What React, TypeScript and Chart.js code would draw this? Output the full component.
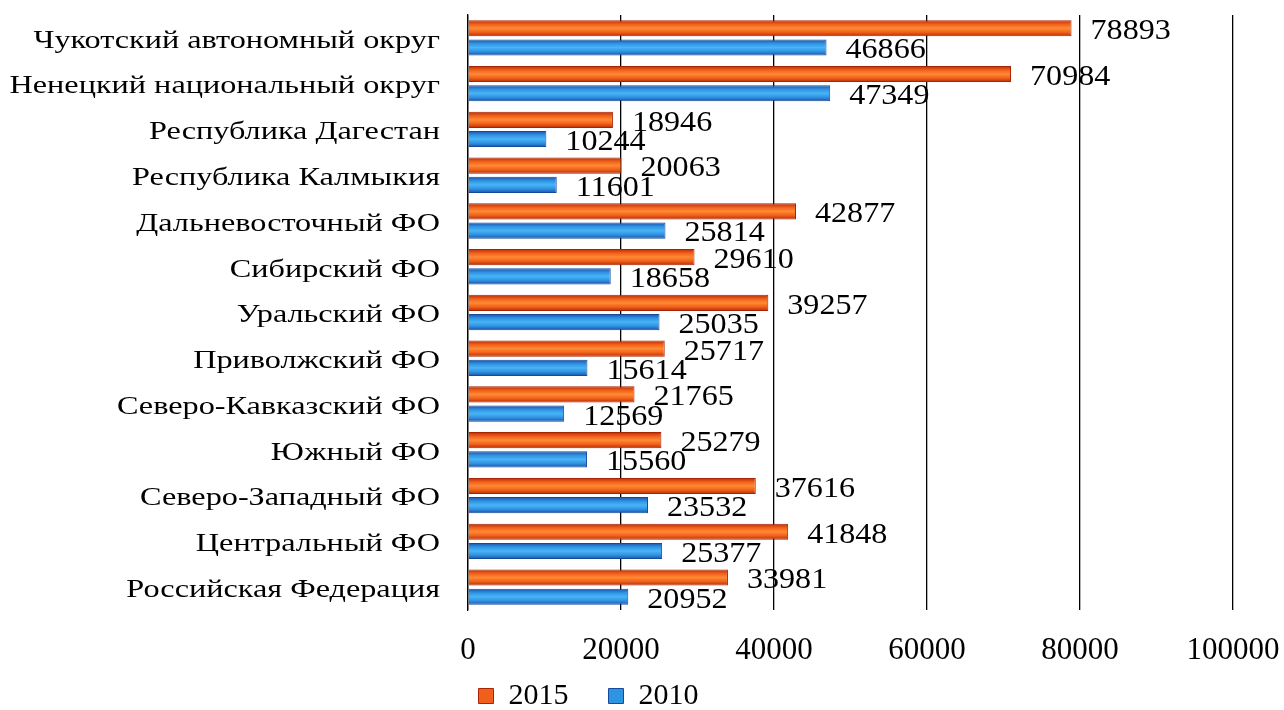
import React, { useEffect, useRef } from "react";
import { Chart, registerables } from "chart.js";

Chart.register(...registerables);

const categories = [
  "Чукотский автономный округ",
  "Ненецкий национальный округ",
  "Республика Дагестан",
  "Республика Калмыкия",
  "Дальневосточный ФО",
  "Сибирский ФО",
  "Уральский ФО",
  "Приволжский ФО",
  "Северо-Кавказский ФО",
  "Южный ФО",
  "Северо-Западный ФО",
  "Центральный ФО",
  "Российская Федерация",
];
const values2015 = [78893, 70984, 18946, 20063, 42877, 29610, 39257, 25717, 21765, 25279, 37616, 41848, 33981];
const values2010 = [46866, 47349, 10244, 11601, 25814, 18658, 25035, 15614, 12569, 15560, 23532, 25377, 20952];
const xTicks = [0, 20000, 40000, 60000, 80000, 100000];

const FONT = "'Liberation Serif', 'Times New Roman', serif";

const gradientStops: Record<string, string[]> = {
  orange: ["#b82a06", "#f0601a", "#ff8a34", "#f0601a", "#b82a06"],
  blue: ["#1a4fa6", "#2f92e2", "#48b4f6", "#2f92e2", "#1a4fa6"],
};
const stopPos = [0, 0.25, 0.5, 0.75, 1];

const gradientPlugin = {
  id: "barGradient",
  beforeDatasetsDraw(chart: any) {
    const ctx = chart.ctx;
    chart.data.datasets.forEach((ds: any, i: number) => {
      const meta = chart.getDatasetMeta(i);
      const stops = gradientStops[ds.gradKey];
      meta.data.forEach((el: any) => {
        const h = el.height;
        const g = ctx.createLinearGradient(0, el.y - h / 2, 0, el.y + h / 2);
        stops.forEach((c, k) => g.addColorStop(stopPos[k], c));
        el.options = Object.assign({}, el.options, { backgroundColor: g });
      });
    });
  },
};

const labelPlugin = {
  id: "valueLabels",
  afterDatasetsDraw(chart: any) {
    const ctx = chart.ctx;
    ctx.save();
    ctx.font = `30px ${FONT}`;
    ctx.fillStyle = "#000";
    ctx.textAlign = "left";
    ctx.textBaseline = "middle";
    const sx = 1.07;
    chart.data.datasets.forEach((ds: any, i: number) => {
      const meta = chart.getDatasetMeta(i);
      meta.data.forEach((el: any, j: number) => {
        ctx.save();
        ctx.translate(el.x + 19, el.y + 3);
        ctx.scale(sx, 1);
        ctx.fillText(String(ds.data[j]), 0, 0);
        ctx.restore();
      });
    });
    // category labels
    const y = chart.scales.y;
    ctx.font = `26px ${FONT}`;
    ctx.textAlign = "right";
    const cx = 1.24;
    chart.data.labels.forEach((lab: string, j: number) => {
      ctx.save();
      ctx.translate(y.right - 28, y.getPixelForTick(j) + 3);
      ctx.scale(cx, 1);
      ctx.fillText(lab, 0, 0);
      ctx.restore();
    });
    ctx.restore();
  },
};

const legendShift = {
  id: "legendShift",
  beforeLayout(chart: any) {
    const lg = chart.legend;
    if (lg && !lg.__patched) {
      const orig = lg.fit.bind(lg);
      lg.fit = function () {
        orig();
        this.height = 42;
      };
      lg.__patched = true;
    }
  },
  afterLayout(chart: any) {
    const lg = chart.legend;
    if (lg) {
      lg.right -= 56;
      lg.top -= 27;
      lg.bottom = chart.height;
    }
  },
};

export default function App() {
  const ref = useRef<HTMLCanvasElement>(null);
  useEffect(() => {
    document.body.style.margin = "0";
    const chart = new Chart(ref.current!, {
      type: "bar",
      data: {
        labels: categories,
        datasets: [
          {
            label: "2015",
            data: values2015,
            gradKey: "orange",
            backgroundColor: "#f06a1c",
            borderColor: "#a82406",
            borderWidth: 1,
            categoryPercentage: 0.84,
            barPercentage: 0.84,
          } as any,
          {
            label: "2010",
            data: values2010,
            gradKey: "blue",
            backgroundColor: "#2f8fdc",
            borderColor: "#164a9a",
            borderWidth: 1,
            categoryPercentage: 0.84,
            barPercentage: 0.84,
          } as any,
        ],
      },
      options: {
        indexAxis: "y",
        animation: false,
        responsive: false,
        maintainAspectRatio: false,
        layout: { padding: { top: 15, right: 51, left: 0, bottom: 0 } },
        scales: {
          x: {
            min: 0,
            max: 100000,
            afterBuildTicks(scale: any) {
              scale.ticks = xTicks.map((v) => ({ value: v }));
            },
            afterFit(scale: any) {
              scale.height = 58;
              scale.paddingLeft = 0;
              scale.paddingRight = 0;
            },
            grid: { color: "#000", lineWidth: 1.3, drawTicks: false },
            border: { display: false },
            ticks: {
              padding: 22,
              color: "#000",
              font: { family: FONT, size: 31 },
              callback: (v: any) => String(v),
            },
          },
          y: {
            afterFit(scale: any) {
              scale.width = 468;
              scale.paddingTop = 0;
              scale.paddingBottom = 0;
            },
            grid: { display: false, drawTicks: false },
            border: { display: true, color: "#000", width: 1.3 },
            ticks: {
              display: false,
              autoSkip: false,
            },
          },
        },
        plugins: {
          tooltip: { enabled: false },
          legend: {
            position: "bottom",
            labels: {
              color: "#000",
              font: { family: FONT, size: 30 },
              boxWidth: 15,
              boxHeight: 15,
              padding: 40,
              generateLabels: (chart: any) =>
                chart.data.datasets.map((ds: any, i: number) => ({
                  text: ds.label,
                  fillStyle: ds.gradKey === "orange" ? "#f0601a" : "#2e93e0",
                  strokeStyle: ds.borderColor,
                  lineWidth: 1,
                  datasetIndex: i,
                  hidden: false,
                  fontColor: "#000",
                })),
            },
          },
        },
      } as any,
      plugins: [gradientPlugin, labelPlugin, legendShift],
    });
    return () => chart.destroy();
  }, []);
  return (
    <div style={{ width: 1284, height: 710 }}>
      <canvas ref={ref} width={1284} height={710} />
    </div>
  );
}
